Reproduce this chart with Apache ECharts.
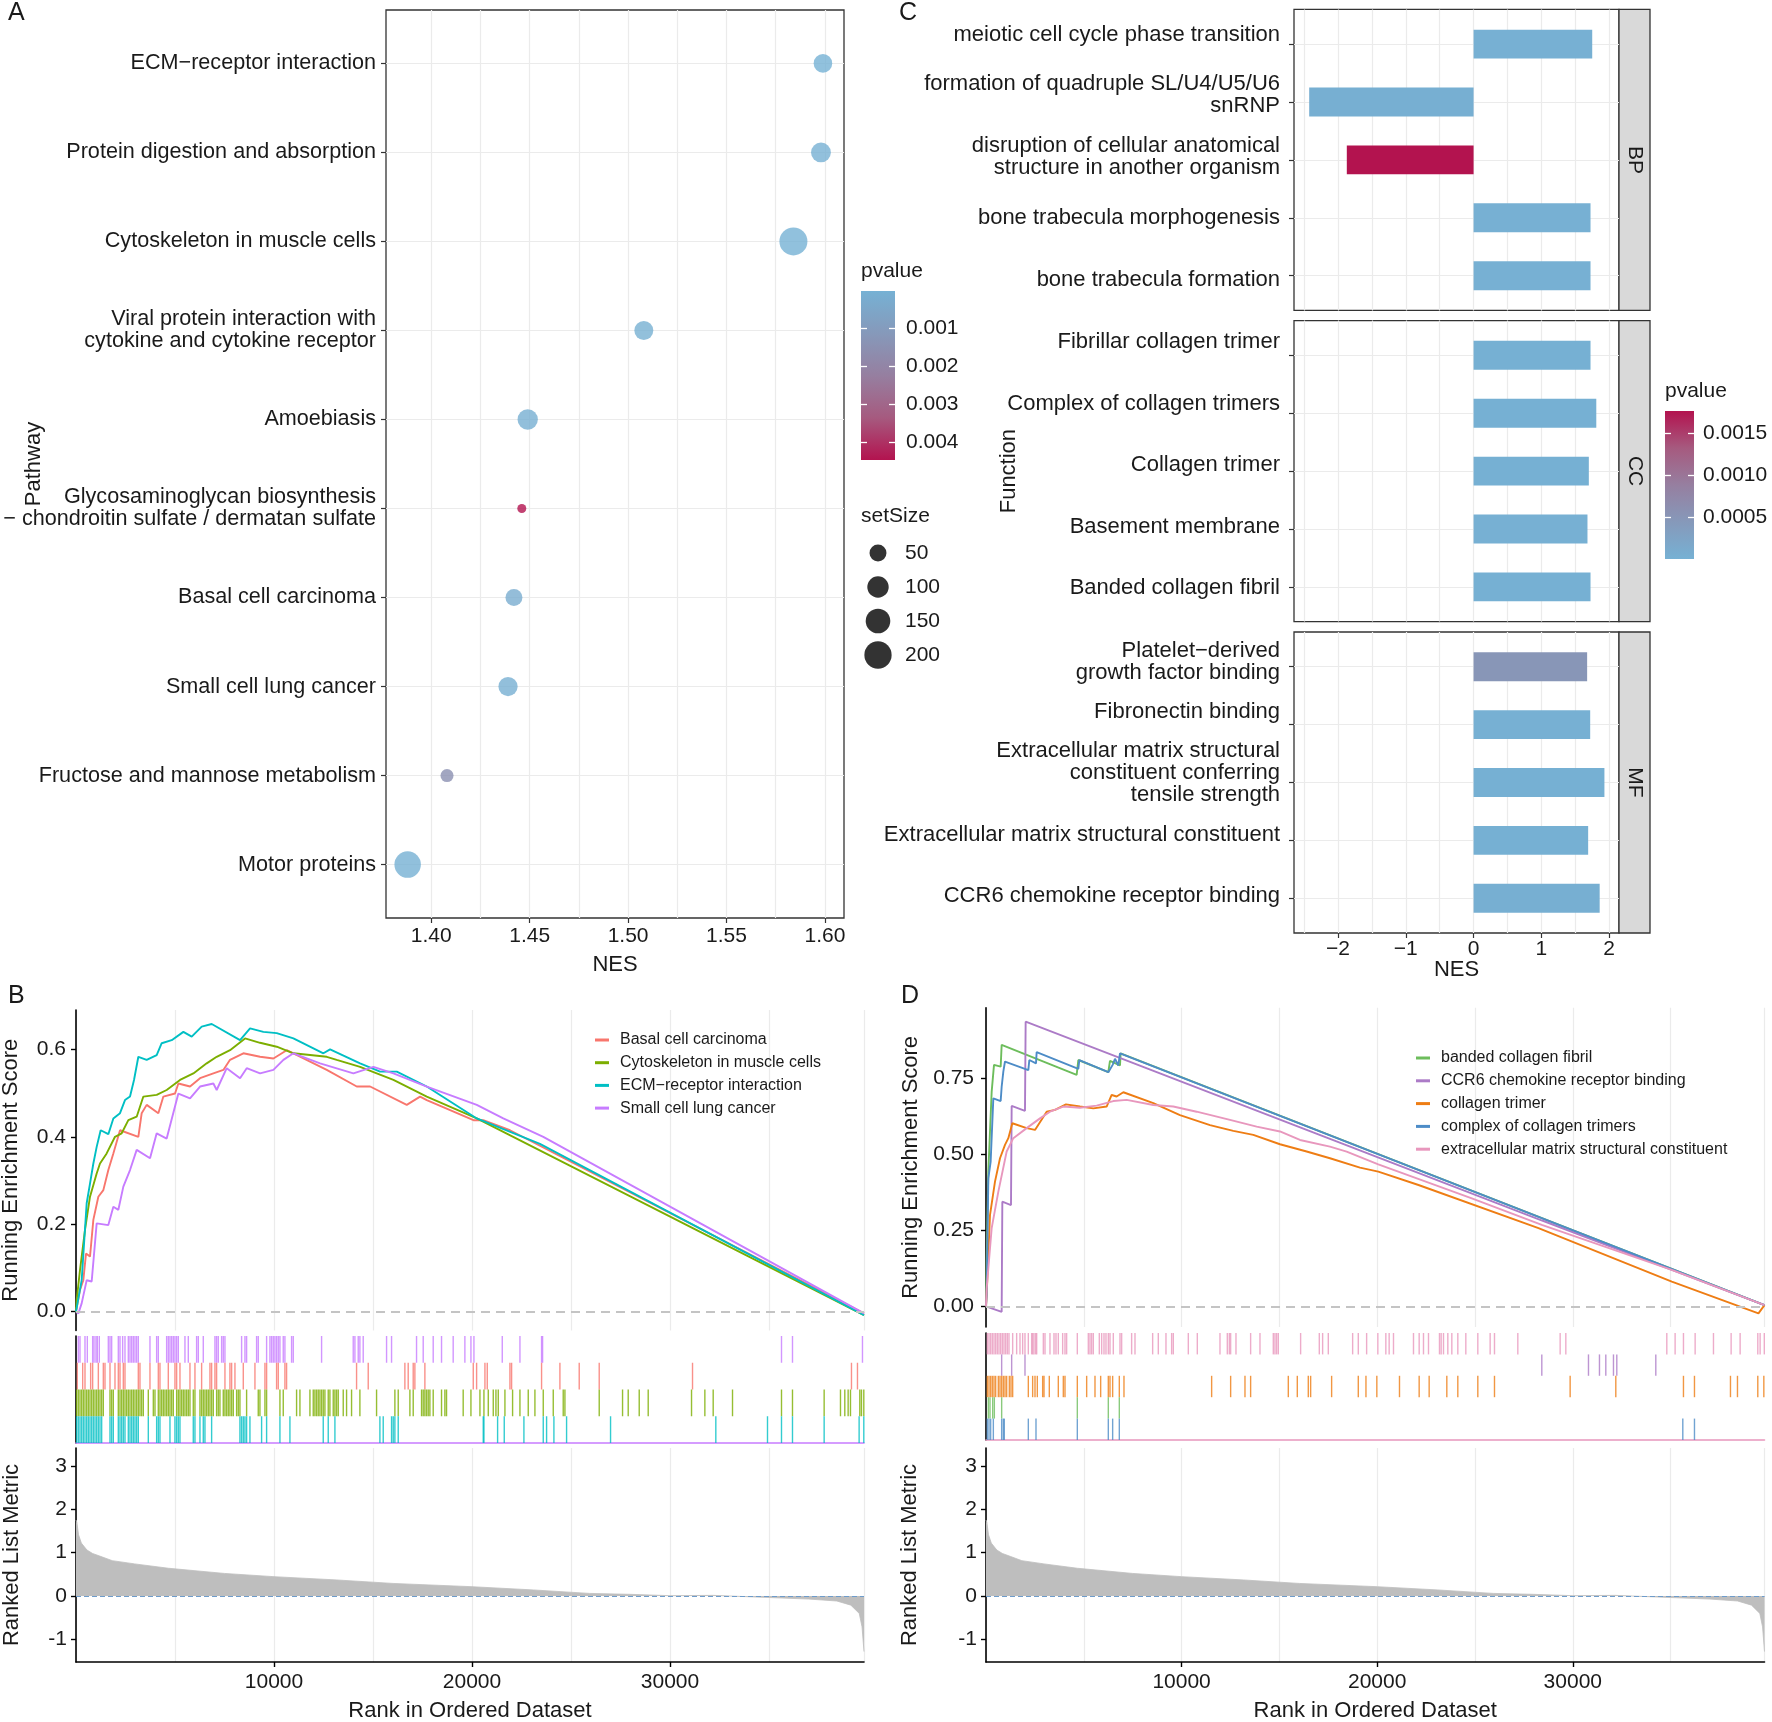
<!DOCTYPE html>
<html>
<head>
<meta charset="utf-8">
<script src="https://cdn.jsdelivr.net/npm/echarts@6/dist/echarts.min.js"></script>
<style>
html, body { margin: 0; padding: 0; background: #fff; }
#chart { width: 1772px; height: 1722px; }
</style>
</head>
<body>
<div id="chart"></div>
<script>
// ---------- A: KEGG dot plot ----------
var pathwayNames = [
    'ECM\u2212receptor interaction',
    'Protein digestion and absorption',
    'Cytoskeleton in muscle cells',
    'Viral protein interaction with\ncytokine and cytokine receptor',
    'Amoebiasis',
    'Glycosaminoglycan biosynthesis\n\u2212 chondroitin sulfate / dermatan sulfate',
    'Basal cell carcinoma',
    'Small cell lung cancer',
    'Fructose and mannose metabolism',
    'Motor proteins'
];
var pathwayNES = [1.599, 1.598, 1.584, 1.508, 1.449, 1.446, 1.442, 1.439, 1.408, 1.388];
var pathwayP = [0.000013, 0.00005, 0.00003, 0.00008, 0.0001, 0.00448, 0.0002, 0.00009, 0.0015, 0.00004];
var pathwaySetSize = [66, 80, 215, 70, 86, 15, 50, 73, 24, 184];
var nesTicksA = [1.40, 1.45, 1.50, 1.55, 1.60];
var nesGridA = [1.40, 1.425, 1.45, 1.475, 1.50, 1.525, 1.55, 1.575, 1.60];
var pvalTicksA = [0.001, 0.002, 0.003, 0.004];
var setSizeLegend = [50, 100, 150, 200];

// ---------- C: GO bar plot ----------
var bpTerms = ['meiotic cell cycle phase transition', 'formation of quadruple SL/U4/U5/U6\nsnRNP',
    'disruption of cellular anatomical\nstructure in another organism', 'bone trabecula morphogenesis', 'bone trabecula formation'];
var bpNES = [1.75, -2.425, -1.87, 1.725, 1.725];
var bpP = [0.00002, 0.00003, 0.00177, 0.00002, 0.00002];
var ccTerms = ['Fibrillar collagen trimer', 'Complex of collagen trimers', 'Collagen trimer', 'Basement membrane', 'Banded collagen fibril'];
var ccNES = [1.725, 1.81, 1.70, 1.68, 1.725];
var ccP = [0.00001, 0.00001, 0.00001, 0.00002, 0.00001];
var mfTerms = ['Platelet\u2212derived\ngrowth factor binding', 'Fibronectin binding',
    'Extracellular matrix structural\nconstituent conferring\ntensile strength', 'Extracellular matrix structural constituent', 'CCR6 chemokine receptor binding'];
var mfNES = [1.675, 1.72, 1.93, 1.69, 1.86];
var mfP = [0.0005, 0.00002, 0.00001, 0.00001, 0.00003];
var facetNames = ['BP', 'CC', 'MF'];
var nesTicksC = [-2, -1, 0, 1, 2];
var nesGridC = [-2.5, -2, -1.5, -1, -0.5, 0, 0.5, 1, 1.5, 2];
var pvalTicksC = [0.0005, 0.0010, 0.0015];

// ---------- B / D: GSEA ----------
var rankedListLength = 39800;
var rankTicks = [10000, 20000, 30000];
var metricTicks = [-1, 0, 1, 2, 3];
var rankedMetric = [[1, 1.75], [43, 1.70], [128, 1.41], [270, 1.22], [553, 1.06], [837, 0.98], [1262, 0.91], [1830, 0.815],
    [2965, 0.74], [4667, 0.64], [7504, 0.52], [10000, 0.446], [13178, 0.37], [16015, 0.29], [20000, 0.215], [23106, 0.14],
    [25943, 0.06], [27929, 0.04], [30000, 0.008], [32184, 0.015], [33035, 0.0], [35305, -0.04], [37007, -0.07],
    [38426, -0.115], [39135, -0.21], [39560, -0.40], [39700, -0.71], [39800, -1.28]];

var gseaNamesB = ['Basal cell carcinoma', 'Cytoskeleton in muscle cells', 'ECM\u2212receptor interaction', 'Small cell lung cancer'];
var esBasalB = [[0, 0], [34, 0.004], [202, 0.05], [370, 0.072], [505, 0.133], [707, 0.126], [876, 0.21], [1128, 0.263], [1381, 0.278],
    [1633, 0.324], [1886, 0.362], [2223, 0.415], [3149, 0.4], [3318, 0.454], [3570, 0.473], [4159, 0.454], [4412, 0.492], [5002, 0.499],
    [5170, 0.522], [5760, 0.515], [6265, 0.534], [6938, 0.545], [7443, 0.553], [7780, 0.576], [8454, 0.591], [9296, 0.583], [9970, 0.579],
    [10643, 0.598], [10980, 0.591], [12664, 0.553], [14180, 0.515], [14853, 0.515], [16705, 0.473], [17379, 0.492], [17716, 0.484],
    [20074, 0.438], [20571, 0.438], [21918, 0.415], [39800, -0.004]];
var esCytoB = [[0, 0], [34, 0.027], [202, 0.095], [455, 0.187], [707, 0.263], [1044, 0.316], [1212, 0.339], [1549, 0.362], [1970, 0.4],
    [2307, 0.408], [2644, 0.438], [3065, 0.446], [3402, 0.492], [4075, 0.496], [4580, 0.507], [5254, 0.53], [5928, 0.545], [6601, 0.568],
    [7106, 0.583], [7780, 0.598], [8538, 0.625], [9296, 0.615], [10138, 0.606], [10980, 0.591], [12664, 0.583], [13169, 0.576],
    [14348, 0.56], [16032, 0.53], [17716, 0.492], [20242, 0.442], [39800, -0.008]];
var esEcmB = [[0, 0], [286, 0.072], [539, 0.248], [707, 0.293], [876, 0.339], [1044, 0.377], [1246, 0.415], [1633, 0.406], [1886, 0.442],
    [2223, 0.454], [2475, 0.484], [2728, 0.492], [2930, 0.53], [3149, 0.583], [3570, 0.576], [4075, 0.587], [4328, 0.614], [4833, 0.621],
    [5423, 0.64], [5844, 0.629], [6349, 0.652], [6854, 0.658], [8286, 0.621], [8791, 0.648], [9464, 0.64], [10138, 0.637], [10980, 0.625],
    [12496, 0.591], [12833, 0.6], [14348, 0.568], [15359, 0.549], [16200, 0.549], [17716, 0.515], [20242, 0.442], [23433, 0.384],
    [39800, -0.008]];
var esSclcB = [[0, 0], [118, -0.004], [286, 0.019], [539, 0.072], [792, 0.069], [1044, 0.202], [1633, 0.198], [1886, 0.24], [2139, 0.233],
    [2391, 0.286], [2728, 0.324], [3065, 0.37], [3739, 0.351], [4075, 0.408], [4580, 0.396], [5170, 0.499], [5760, 0.488], [6265, 0.515],
    [6938, 0.522], [7106, 0.507], [7612, 0.557], [8286, 0.534], [8622, 0.557], [9296, 0.545], [9970, 0.553], [10475, 0.576],
    [10980, 0.591], [12327, 0.568], [14011, 0.545], [15022, 0.56], [16032, 0.545], [17716, 0.515], [20242, 0.473], [21581, 0.442],
    [23602, 0.4], [39800, -0.004]];
var hitsBasalB = [67, 337, 454, 740, 841, 1128, 1380, 1464, 1717, 1969, 2137, 2222, 2390, 2474, 3147, 3231, 3736, 4157, 4241, 4662, 4998,
    5083, 5251, 5756, 6008, 6345, 6766, 6850, 7018, 7102, 7523, 7775, 7860, 8028, 8449, 9038, 9543, 9627, 10131, 10216, 10552, 10636,
    14171, 14760, 16611, 16779, 17032, 17116, 17621, 20065, 20234, 20654, 20772, 21917, 22001, 23515, 24441, 25417, 26427, 31139,
    39167, 39470];
var hitsCytoB = [34, 118, 202, 286, 370, 454, 539, 623, 707, 791, 875, 959, 1043, 1128, 1212, 1296, 1380, 1717, 1801, 1885, 2137, 2222,
    2306, 2390, 2474, 2558, 2642, 2727, 2811, 2895, 2979, 3063, 3147, 3231, 3315, 3400, 3652, 3905, 3989, 4157, 4241, 4325, 4409, 4494,
    4578, 4662, 4746, 4830, 4914, 5083, 5167, 5251, 5335, 5419, 5503, 5588, 5672, 5756, 5924, 6008, 6261, 6345, 6429, 6513, 6597, 6681,
    6766, 6850, 6934, 7102, 7186, 7270, 7439, 7523, 7607, 7691, 7775, 7860, 7944, 8112, 8196, 8280, 8617, 9206, 9290, 9543, 9627, 10300,
    10468, 11141, 11310, 11815, 11983, 12067, 12151, 12235, 12320, 12404, 12488, 12572, 12740, 12824, 12993, 13077, 13161, 13245, 13498,
    13666, 13918, 14339, 15181, 16106, 16275, 16864, 17032, 17453, 17537, 17621, 17705, 17790, 17874, 18042, 18462, 18631, 18715, 19556,
    19947, 20402, 20604, 20823, 21075, 21210, 21328, 21664, 22051, 22422, 22842, 23179, 23600, 24105, 24609, 24694, 26427, 27605, 27891,
    28447, 28901, 31089, 31762, 32183, 33159, 35633, 36188, 37787, 38612, 38830, 38999, 39117, 39588, 39672, 39790];
var hitsEcmB = [34, 118, 202, 286, 370, 454, 539, 623, 707, 791, 875, 959, 1043, 1128, 1212, 1296, 1717, 1801, 1885, 2137, 2222, 2306,
    2390, 2474, 2642, 2727, 2811, 2895, 2979, 3063, 3147, 3652, 4073, 4157, 4241, 4746, 4998, 5083, 5167, 5251, 5924, 6008, 6261, 6429,
    6513, 6850, 8280, 8364, 8449, 8533, 8617, 8785, 9374, 9627, 10300, 10805, 12488, 12740, 13077, 15349, 15517, 15938, 16022, 16106,
    16275, 20570, 20604, 21294, 21630, 22623, 23600, 23768, 24138, 24778, 26999, 32316, 34926, 35633, 36188, 37787, 39554, 39790];
var hitsSclcB = [118, 202, 454, 572, 841, 909, 1010, 1077, 1178, 1632, 1717, 1801, 2137, 2222, 2356, 2474, 2642, 2727, 2811, 2895, 2979,
    3063, 3147, 3736, 4073, 4157, 4578, 4662, 4746, 4830, 4914, 4998, 5083, 5167, 5503, 5672, 6092, 6177, 6429, 7018, 7102, 7186, 7355,
    7439, 7523, 8364, 8533, 8617, 9122, 9206, 9627, 9795, 9879, 9963, 10047, 10131, 10216, 10300, 10468, 10552, 10889, 10973, 12404,
    14003, 14087, 14255, 14339, 14507, 15686, 15938, 17200, 17537, 18042, 18462, 19051, 19641, 19947, 20099, 21530, 22422, 23515, 23566,
    35633, 36188, 39723];

var gseaNamesD = ['banded collagen fibril', 'CCR6 chemokine receptor binding', 'collagen trimer', 'complex of collagen trimers',
    'extracellular matrix structural constituent'];
var esBandedD = [[0, 0], [34, 0.147], [119, 0.443], [290, 0.706], [409, 0.794], [750, 0.788], [801, 0.86], [4635, 0.761], [4720, 0.81],
    [6253, 0.77], [6338, 0.807], [6850, 0.792], [6884, 0.832], [39800, 0.004]];
var esCcr6D = [[0, 0], [801, -0.018], [835, 0.344], [1278, 0.333], [1312, 0.659], [1993, 0.643], [2027, 0.936], [28400, 0.283],
    [39800, 0.004]];
var esTrimerD = [[0, 0], [34, 0.037], [204, 0.30], [460, 0.41], [716, 0.487], [971, 0.531], [1142, 0.553], [1346, 0.602], [2079, 0.586],
    [2505, 0.58], [3101, 0.64], [3527, 0.646], [4089, 0.664], [4805, 0.657], [5487, 0.651], [6168, 0.657], [6424, 0.695], [6679, 0.69],
    [7020, 0.704], [8554, 0.668], [9917, 0.629], [11451, 0.596], [12644, 0.577], [13666, 0.564], [15029, 0.533], [16392, 0.509],
    [17585, 0.487], [19119, 0.456], [20056, 0.443], [22111, 0.399], [28245, 0.257], [35061, 0.081], [39491, -0.023], [39800, 0.004]];
var esComplexD = [[0, 0], [34, 0.037], [119, 0.421], [238, 0.476], [375, 0.684], [750, 0.675], [801, 0.722], [886, 0.772], [971, 0.805],
    [2164, 0.777], [2215, 0.81], [2556, 0.799], [2590, 0.836], [4720, 0.781], [4771, 0.81], [6253, 0.77], [6475, 0.794], [6594, 0.814],
    [6764, 0.792], [6850, 0.832], [39800, 0.004]];
var esEcmscD = [[0, 0], [34, 0.059], [290, 0.257], [631, 0.377], [1056, 0.509], [1397, 0.553], [2079, 0.586], [2760, 0.618], [3271, 0.64],
    [3953, 0.657], [4805, 0.653], [5657, 0.66], [6509, 0.675], [7191, 0.679], [8554, 0.662], [9576, 0.657], [10769, 0.64], [12473, 0.613],
    [13837, 0.591], [15029, 0.575], [16052, 0.547], [17585, 0.525], [18437, 0.509], [20056, 0.467], [24837, 0.355], [28415, 0.268],
    [35061, 0.12], [39800, 0.004]];
var hitsBandedD = [119, 204, 341, 426, 801, 4669, 6253, 6816];
var hitsCcr6D = [801, 1312, 1993, 28415, 30801, 31363, 31687, 32079, 32249, 34243];
var hitsTrimerD = [68, 153, 238, 323, 409, 494, 630, 715, 801, 886, 971, 1056, 1193, 1278, 1363, 2164, 2385, 2505, 2624, 2897, 2965, 3237,
    3697, 3953, 4038, 4669, 5146, 5572, 5862, 6253, 6339, 6475, 6816, 7054, 11536, 12507, 13240, 13529, 15455, 15915, 16477, 16597, 17670,
    19033, 19425, 19981, 21139, 22145, 22656, 23559, 24121, 25144, 25996, 29864, 32198, 35657, 36220, 38060, 38418, 39457, 39766];
var hitsComplexD = [68, 153, 238, 375, 801, 886, 937, 2164, 2556, 4669, 6253, 6475, 6816, 35623, 36220];
var hitsEcmscD = [68, 153, 238, 323, 409, 494, 579, 664, 750, 835, 920, 1005, 1090, 1175, 1363, 1567, 1738, 1874, 1993, 2164, 2334, 2385,
    2453, 2539, 2590, 2931, 3016, 3271, 3476, 3578, 3697, 3919, 4038, 4123, 4669, 5231, 5316, 5401, 5487, 5793, 5913, 6032, 6134, 6253,
    6339, 6509, 6850, 6935, 7446, 7617, 8520, 8809, 9201, 9491, 9576, 10343, 10803, 11962, 12337, 12439, 12507, 12780, 13529, 14007,
    14688, 14773, 14859, 14944, 16085, 17040, 17210, 17500, 18744, 19033, 19459, 20032, 20441, 20611, 20833, 21855, 22145, 22366, 22622,
    23184, 23269, 23389, 23610, 23815, 24121, 24530, 25144, 25774, 25996, 27189, 29353, 29643, 34805, 35231, 35657, 36254, 37191, 38094,
    38554, 39457, 39576, 39790];

// ---------- styles ----------
var FONT = "'Liberation Sans', Arial, Helvetica, sans-serif";
var INK = '#1A1A1A';
var GRID_LINE = '#EBEBEB';
var FRAME = '#333333';
var pvalPalette = ['#76B1D4', '#8699BA', '#967FA0', '#A65A7F', '#B3134F'];
var colorsB = ['#F8766D', '#7CAE00', '#00BFC4', '#C77CFF'];
var colorsD = ['#6DBD5C', '#AC7BC7', '#EE7D14', '#4D8CC7', '#E897BD'];
var pLimitsA = [0.000013, 0.00448];
var pLimitsC = [0, 0.00177];
var sizeDomain = [15, 215], diameterRange = [9, 28];
// the GO labels sit a little off their ticks in the original (pixels, upward)
var labelNudgeC = [[9, 7, 3, 0, -4], [13, 9, 6, 2.5, -1], [5, 12.5, 9.4, 5, 2]];

function setSizeToDiameter(v) {
    var t = Math.max(0, v - sizeDomain[0]) / (sizeDomain[1] - sizeDomain[0]);
    return diameterRange[0] + (diameterRange[1] - diameterRange[0]) * Math.sqrt(t);
}
function txt(size, extra) {
    return Object.assign({ fontFamily: FONT, fontSize: size, color: INK, fontWeight: 'normal' }, extra || {});
}
function ticks(values, extra) {
    return Object.assign({ show: true, customValues: values, length: 5, lineStyle: { color: FRAME, width: 1.2 } }, extra || {});
}
function labels(values, fmt, margin, size, extra) {
    return Object.assign({ show: true, customValues: values, formatter: fmt, margin: margin }, txt(size || 21), extra || {});
}
var BLACK_LINE = { show: true, onZero: false, lineStyle: { color: '#000', width: 1.6 } };
var BLACK_TICK = { color: '#000', width: 1.4 };

var xAxes = [], yAxes = [], series = [];
function addAxis(list, cfg) {
    list.push(Object.assign({
        type: 'value',
        nameMoveOverlap: false,
        axisLine: { show: false, onZero: false },
        axisTick: { show: false },
        axisLabel: { show: false },
        splitLine: { show: false }
    }, cfg));
    return list.length - 1;
}
function minus(v) { return v < 0 ? '\u2212' + Math.abs(v) : String(v); }

// ---------- grids ----------
var framed = { show: true, borderColor: FRAME, borderWidth: 1.3, backgroundColor: 'transparent' };
var gridA = { left: 386, top: 10, width: 458, height: 908 };
var cLeft = 1294, cWidth = 325, cTops = [9.4, 320.6, 632], cHeight = 301, stripWidth = 31;
var grids = [
    Object.assign({}, gridA, framed),                      // 0 A
    { left: 861, top: 291, width: 34, height: 169 },       // 1 A colorbar
    { left: 861, top: 536, width: 34, height: 136 },       // 2 A size legend
    Object.assign({ left: cLeft, top: cTops[0], width: cWidth, height: cHeight }, framed), // 3
    Object.assign({ left: cLeft, top: cTops[1], width: cWidth, height: cHeight }, framed), // 4
    Object.assign({ left: cLeft, top: cTops[2], width: cWidth, height: cHeight }, framed), // 5
    { left: 1665, top: 411, width: 29, height: 148 },      // 6 C colorbar
    { left: 76, top: 1010, width: 788, height: 320.5 },    // 7 B ES
    { left: 76, top: 1336, width: 788, height: 107 },      // 8 B rug
    { left: 76, top: 1448, width: 788, height: 214 },      // 9 B metric
    { left: 986, top: 1007.7, width: 778.5, height: 319.3 }, // 10 D ES
    { left: 986, top: 1333, width: 778.5, height: 107 },   // 11 D rug
    { left: 986, top: 1448, width: 778.5, height: 214 }    // 12 D metric
];
grids.forEach(function (g) { g.containLabel = false; g.outerBoundsMode = 'none'; });

// ---------- colorbar drawing ----------
function colorbarItem(params, api) {
    var a = api.coord([0, api.value(0)]);
    var b = api.coord([1, api.value(1)]);
    var stops = pvalPalette.map(function (c, i) { return { offset: i / (pvalPalette.length - 1), color: c }; });
    var grad = a[1] < b[1]
        ? new echarts.graphic.LinearGradient(0, 0, 0, 1, stops)
        : new echarts.graphic.LinearGradient(0, 1, 0, 0, stops);
    return {
        type: 'rect',
        shape: { x: Math.min(a[0], b[0]), y: Math.min(a[1], b[1]), width: Math.abs(b[0] - a[0]), height: Math.abs(b[1] - a[1]) },
        style: { fill: grad }
    };
}
function colorbar(gridIndex, limits, tickVals, digits, margin, inverse) {
    var xi = addAxis(xAxes, { gridIndex: gridIndex, min: 0, max: 1 });
    var whiteTicks = { inside: true, length: 6, lineStyle: { color: '#fff', width: 1.3 } };
    var yi = addAxis(yAxes, {
        gridIndex: gridIndex, min: limits[0], max: limits[1], inverse: inverse, position: 'right', z: 5,
        axisTick: ticks(tickVals, whiteTicks),
        axisLabel: labels(tickVals, function (v) { return v.toFixed(digits); }, margin)
    });
    addAxis(yAxes, { gridIndex: gridIndex, min: limits[0], max: limits[1], inverse: inverse, position: 'left', z: 5,
        axisTick: ticks(tickVals, whiteTicks) });
    series.push({ type: 'custom', xAxisIndex: xi, yAxisIndex: yi, silent: true, renderItem: colorbarItem, data: [[limits[0], limits[1]]] });
}

// ---------- A ----------
var idxA = pathwayNames.map(function (_, i) { return i; });
var xA = addAxis(xAxes, {
    gridIndex: 0, min: 1.377, max: 1.6097,
    axisTick: ticks(nesTicksA),
    axisLabel: labels(nesTicksA, function (v) { return v.toFixed(2); }, 8),
    name: 'NES', nameLocation: 'middle', nameGap: 36, nameTextStyle: txt(22)
});
addAxis(xAxes, { gridIndex: 0, min: 1.377, max: 1.6097, axisTick: { show: false, customValues: nesGridA },
    splitLine: { show: true, lineStyle: { color: GRID_LINE, width: 1.2 } } });
var yA = addAxis(yAxes, {
    gridIndex: 0, min: -0.6, max: pathwayNames.length - 0.4, inverse: true,
    axisTick: ticks(idxA),
    axisLabel: labels(idxA, function (v) { return pathwayNames[Math.round(v)]; }, 10, 21.6, { lineHeight: 22 }),
    splitLine: { show: true, lineStyle: { color: GRID_LINE, width: 1.2 } },
    name: 'Pathway', nameLocation: 'middle', nameGap: 341, nameTextStyle: txt(22)
});
var sA = series.length;
series.push({
    type: 'scatter', xAxisIndex: xA, yAxisIndex: yA,
    symbolSize: function (val) { return setSizeToDiameter(val[3]); },
    data: pathwayNames.map(function (_, i) { return [pathwayNES[i], i, pathwayP[i], pathwaySetSize[i]]; })
});
colorbar(1, pLimitsA, pvalTicksA, 3, 11, true);
var xS = addAxis(xAxes, { gridIndex: 2, min: -1, max: 1 });
var yS = addAxis(yAxes, {
    gridIndex: 2, type: 'category', inverse: true, position: 'right',
    data: setSizeLegend.map(String),
    axisLabel: Object.assign({ show: true, margin: 10 }, txt(21))
});
series.push({
    type: 'scatter', xAxisIndex: xS, yAxisIndex: yS, silent: true,
    itemStyle: { color: '#000' },
    symbolSize: function (val) { return setSizeToDiameter(val[2]); },
    data: setSizeLegend.map(function (v) { return [0, String(v), v]; })
});

// ---------- C ----------
var facetTerms = [bpTerms, ccTerms, mfTerms];
var facetNES = [bpNES, ccNES, mfNES];
var facetP = [bpP, ccP, mfP];
var barHalf = 0.25;
function barItem(params, api) {
    var a = api.coord([0, api.value(1) - barHalf]);
    var b = api.coord([api.value(0), api.value(1) + barHalf]);
    return {
        type: 'rect',
        shape: { x: Math.min(a[0], b[0]), y: Math.min(a[1], b[1]), width: Math.abs(b[0] - a[0]), height: Math.abs(b[1] - a[1]) },
        style: { fill: api.visual('color') }
    };
}
var sC = [];
facetTerms.forEach(function (terms, k) {
    var last = k === facetTerms.length - 1;
    var idx = terms.map(function (_, i) { return i; });
    var unitPx = cHeight / (terms.length + 0.2);
    var labelPos = idx.map(function (i) { return i - labelNudgeC[k][i] / unitPx; });
    var xi = addAxis(xAxes, Object.assign({
        gridIndex: 3 + k, min: -2.649, max: 2.145,
        axisTick: last ? ticks(nesTicksC) : { show: false },
        axisLabel: last ? labels(nesTicksC, minus, 6) : { show: false }
    }, last ? { name: 'NES', nameLocation: 'middle', nameGap: 26, nameTextStyle: txt(22) } : {}));
    addAxis(xAxes, { gridIndex: 3 + k, min: -2.649, max: 2.145, axisTick: { show: false, customValues: nesGridC },
        splitLine: { show: true, lineStyle: { color: GRID_LINE, width: 1.2 } } });
    var yi = addAxis(yAxes, Object.assign({
        gridIndex: 3 + k, min: -0.6, max: terms.length - 0.4, inverse: true,
        axisTick: ticks(idx),
        axisLabel: labels(labelPos, function (v) { return terms[Math.round(v)]; }, 14, 22, { lineHeight: 22 }),
        splitLine: { show: true, lineStyle: { color: GRID_LINE, width: 1.2 } }
    }, k === 1 ? { name: 'Function', nameLocation: 'middle', nameGap: 274, nameTextStyle: txt(22) } : {}));
    sC.push(series.length);
    series.push({
        type: 'custom', xAxisIndex: xi, yAxisIndex: yi, renderItem: barItem,
        data: terms.map(function (_, i) { return [facetNES[k][i], i, facetP[k][i]]; })
    });
});
colorbar(6, pLimitsC, pvalTicksC, 4, 9, false);

// ---------- B / D ----------
function rugItem(color) {
    return function (params, api) {
        var row = api.value(1);
        var p0 = api.coord([api.value(0), row]);
        var p1 = api.coord([api.value(0), row + 1]);
        return { type: 'line', shape: { x1: p0[0], y1: p0[1], x2: p1[0], y2: p1[1] },
            style: { stroke: color, lineWidth: 1.4, opacity: 0.8 } };
    };
}
function buildGsea(cfg) {
    var n = cfg.names.length;
    var xEs = addAxis(xAxes, { gridIndex: cfg.grids[0], min: 0, max: rankedListLength, interval: 5000,
        splitLine: { show: true, lineStyle: { color: GRID_LINE, width: 1.2 } } });
    var yEs = addAxis(yAxes, {
        gridIndex: cfg.grids[0], min: cfg.esRange[0], max: cfg.esRange[1],
        axisLine: BLACK_LINE, axisTick: ticks(cfg.esTicks, { lineStyle: BLACK_TICK }),
        axisLabel: labels(cfg.esTicks, function (v) { return v.toFixed(cfg.esDigits); }, cfg.labelMargin),
        name: 'Running Enrichment Score', nameLocation: 'middle', nameGap: cfg.titleGap, nameTextStyle: txt(22)
    });
    cfg.names.forEach(function (name, i) {
        series.push({
            type: 'line', name: name, xAxisIndex: xEs, yAxisIndex: yEs, data: cfg.curves[i],
            showSymbol: false, symbol: 'none', silent: true,
            lineStyle: { color: cfg.colors[i], width: 1.9 }, itemStyle: { color: cfg.colors[i] },
            markLine: i === 0 ? { silent: true, symbol: 'none', label: { show: false },
                lineStyle: { color: '#C4C4C4', type: [9, 6], width: 1.8 }, data: [{ yAxis: 0 }] } : undefined
        });
    });
    var topColor = cfg.colors[cfg.names.indexOf(cfg.rugOrder[0])];
    var xRug = addAxis(xAxes, { gridIndex: cfg.grids[1], min: 0, max: rankedListLength,
        axisLine: { show: true, onZero: false, lineStyle: { color: topColor, width: 1.6 } } });
    var yRug = addAxis(yAxes, { gridIndex: cfg.grids[1], min: 0, max: n, axisLine: BLACK_LINE });
    cfg.rugOrder.forEach(function (name, j) {
        var i = cfg.names.indexOf(name);
        var row = n - 1 - j;
        series.push({
            type: 'custom', name: name + ' hits', xAxisIndex: xRug, yAxisIndex: yRug, silent: true,
            renderItem: rugItem(cfg.colors[i]),
            data: cfg.hits[i].map(function (r) { return [r, row]; })
        });
    });
    var xM = addAxis(xAxes, {
        gridIndex: cfg.grids[2], min: 0, max: rankedListLength,
        axisLine: BLACK_LINE, axisTick: ticks(rankTicks, { lineStyle: BLACK_TICK }),
        axisLabel: labels(rankTicks, String, 10),
        name: 'Rank in Ordered Dataset', nameLocation: 'middle', nameGap: 38, nameTextStyle: txt(22)
    });
    addAxis(xAxes, { gridIndex: cfg.grids[2], min: 0, max: rankedListLength, interval: 5000,
        splitLine: { show: true, lineStyle: { color: GRID_LINE, width: 1.2 } } });
    var yM = addAxis(yAxes, {
        gridIndex: cfg.grids[2], min: -1.52, max: 3.41,
        axisLine: BLACK_LINE, axisTick: ticks(metricTicks, { lineStyle: BLACK_TICK }),
        axisLabel: labels(metricTicks, String, 9),
        name: 'Ranked List Metric', nameLocation: 'middle', nameGap: cfg.metricGap, nameTextStyle: txt(22)
    });
    series.push({
        type: 'line', xAxisIndex: xM, yAxisIndex: yM, data: rankedMetric, silent: true,
        showSymbol: false, symbol: 'none',
        lineStyle: { color: '#BEBEBE', width: 0.8 }, areaStyle: { color: '#BEBEBE', opacity: 1 },
        markLine: { silent: true, symbol: 'none', label: { show: false },
            lineStyle: { color: '#6E9CCB', type: [5, 3], width: 1.1 }, data: [{ yAxis: 0 }] }
    });
}
buildGsea({
    grids: [7, 8, 9], names: gseaNamesB, colors: colorsB,
    curves: [esBasalB, esCytoB, esEcmB, esSclcB],
    hits: [hitsBasalB, hitsCytoB, hitsEcmB, hitsSclcB],
    rugOrder: ['Small cell lung cancer', 'Basal cell carcinoma', 'Cytoskeleton in muscle cells', 'ECM\u2212receptor interaction'],
    esRange: [-0.043, 0.69], esTicks: [0, 0.2, 0.4, 0.6], esDigits: 1,
    labelMargin: 10, titleGap: 54, metricGap: 53
});
buildGsea({
    grids: [10, 11, 12], names: gseaNamesD, colors: colorsD,
    curves: [esBandedD, esCcr6D, esTrimerD, esComplexD, esEcmscD],
    hits: [hitsBandedD, hitsCcr6D, hitsTrimerD, hitsComplexD, hitsEcmscD],
    rugOrder: ['extracellular matrix structural constituent', 'CCR6 chemokine receptor binding', 'collagen trimer',
        'banded collagen fibril', 'complex of collagen trimers'],
    esRange: [-0.068, 0.982], esTicks: [0, 0.25, 0.5, 0.75], esDigits: 2,
    labelMargin: 12, titleGap: 64, metricGap: 65
});

// ---------- facet strips ----------
var graphics = [];
facetNames.forEach(function (f, k) {
    graphics.push({
        type: 'rect', silent: true,
        shape: { x: cLeft + cWidth, y: cTops[k], width: stripWidth, height: cHeight },
        style: { fill: '#D9D9D9', stroke: FRAME, lineWidth: 1.3 }
    });
    graphics.push({
        type: 'text', silent: true, x: cLeft + cWidth + stripWidth / 2, y: cTops[k] + cHeight / 2, rotation: -Math.PI / 2,
        style: { text: f, font: '21px ' + FONT, fill: INK, align: 'center', verticalAlign: 'middle',
            textAlign: 'center', textVerticalAlign: 'middle' }
    });
});

function panelTitle(text, left, top, size) {
    return { text: text, left: left, top: top, padding: 0, textStyle: txt(size) };
}
var legendText = Object.assign(txt(16), { lineHeight: 16, padding: [0, 0, 0, 6] });

var chart = echarts.init(document.getElementById('chart'), null, { renderer: 'canvas' });
chart.setOption({
    animation: false,
    backgroundColor: '#fff',
    textStyle: { fontFamily: FONT },
    title: [
        panelTitle('A', 8, 1, 25), panelTitle('B', 8, 984, 25),
        panelTitle('C', 899, 1, 25), panelTitle('D', 901, 984, 25),
        panelTitle('pvalue', 861, 261, 21), panelTitle('setSize', 861, 506, 21),
        panelTitle('pvalue', 1665, 381, 21)
    ],
    legend: [
        { data: gseaNamesB, left: 595, top: 1032, orient: 'vertical', icon: 'rect', itemWidth: 14, itemHeight: 3,
            itemGap: 6.7, padding: 0, selectedMode: false, textStyle: legendText },
        { data: gseaNamesD, left: 1416, top: 1050, orient: 'vertical', icon: 'rect', itemWidth: 14, itemHeight: 3,
            itemGap: 6.8, padding: 0, selectedMode: false, textStyle: legendText }
    ],
    visualMap: [
        { type: 'continuous', show: false, seriesIndex: sA, dimension: 2, min: pLimitsA[0], max: pLimitsA[1],
            inRange: { color: pvalPalette } },
        { type: 'continuous', show: false, seriesIndex: sC, dimension: 2, min: pLimitsC[0], max: pLimitsC[1],
            inRange: { color: pvalPalette } }
    ],
    grid: grids,
    xAxis: xAxes,
    yAxis: yAxes,
    series: series,
    graphic: graphics
});
</script>
</body>
</html>
